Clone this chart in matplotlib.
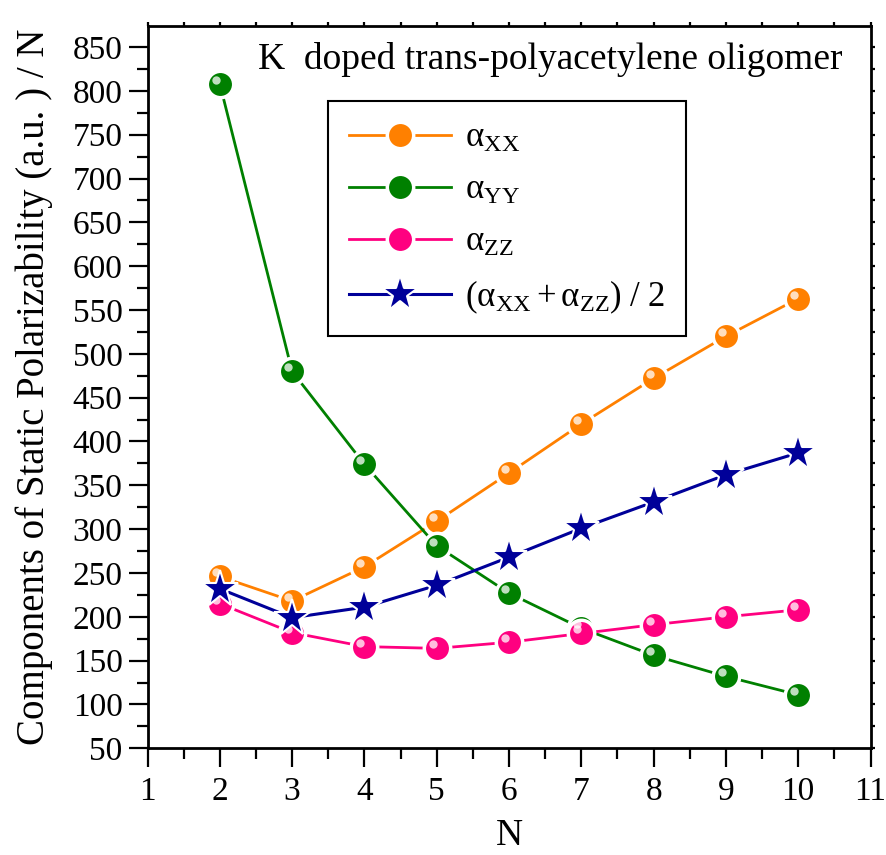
import numpy as np
import matplotlib
matplotlib.use("Agg")
import matplotlib.pyplot as plt
import matplotlib.transforms as mtransforms
from matplotlib.ticker import MultipleLocator

plt.rcParams['font.family'] = ['Liberation Serif', 'DejaVu Serif']
plt.rcParams['mathtext.fontset'] = 'stix'

# data
n = [2, 3, 4, 5, 6, 7, 8, 9, 10]
alpha_xx = [246, 218, 257, 309, 364, 420, 472, 520, 563]
alpha_yy = [808, 480, 374, 281, 227, 187, 156, 132, 111]
alpha_zz = [215, 182, 166, 164, 171, 181, 191, 200, 208]
alpha_avg = [232, 199, 211, 236, 268, 301, 331, 362, 387]

labels = [r'$\mathregular{α_{XX}}$', r'$\mathregular{α_{YY}}$', r'$\mathregular{α_{ZZ}}$',
          r'$\mathregular{(α_{XX}+α_{ZZ})\ /\ 2}$']
colors = ['#FF8000', '#008000', '#FF0080', '#000099']

fig = plt.figure(figsize=(8.87, 8.55), dpi=100)
ax = fig.add_axes([0.1663, 0.1248, 0.8151, 0.8448])

# highlight offset for the "glossy ball" look
hl = mtransforms.offset_copy(ax.transData, fig=fig, x=-4, y=4, units='dots')

series = [alpha_xx, alpha_yy, alpha_zz]
handles = []
for i, vals in enumerate(series):
    h, = ax.plot(n, vals, '-', color=colors[i], lw=2, marker='o', ms=19,
                 mfc=colors[i], mec='white', mew=2.5, zorder=2)
    ax.plot(n, vals, 'o', ms=6, mfc='white', mec='none', alpha=0.75,
            transform=hl, zorder=3)
    handles.append(h)

h, = ax.plot(n, alpha_avg, '-', color=colors[3], lw=2.2, marker='*', ms=28,
             mfc=colors[3], mec='white', mew=1.5, zorder=4)
handles.append(h)

ax.set_xlim(1, 11)
ax.set_ylim(50, 874)
ax.xaxis.set_major_locator(MultipleLocator(1))
ax.xaxis.set_minor_locator(MultipleLocator(0.5))
ax.yaxis.set_major_locator(MultipleLocator(50))
ax.yaxis.set_minor_locator(MultipleLocator(25))

ax.tick_params(which='major', direction='out', length=14, width=1.6, labelsize=24,
               top=True, right=True)
ax.tick_params(which='minor', direction='out', length=8, width=1.6, top=True, right=True)
ax.tick_params(axis='x', which='major', pad=6)
ax.tick_params(axis='y', which='major', pad=4)
for s in ax.spines.values():
    s.set_linewidth(2)
# shorter ticks on top and right
for tl in ax.xaxis.get_majorticklines()[1::2] + ax.xaxis.get_minorticklines()[1::2]:
    tl.set_markersize(3)
for tl in ax.yaxis.get_majorticklines()[1::2] + ax.yaxis.get_minorticklines()[1::2]:
    tl.set_markersize(3)

fig.text(0.574, 1 - 845 / 855, 'N', fontsize=27, ha='center', va='baseline')
ax.set_ylabel('Components of Static Polarizability (a.u. ) / N', fontsize=28, labelpad=14)

ax.text(0.153, 0.953, 'K  doped trans-polyacetylene oligomer', transform=ax.transAxes,
        fontsize=27, va='center', ha='left')

leg = ax.legend(handles, labels, loc='upper left', bbox_to_anchor=(0.2497, 0.896),
                borderaxespad=0, fontsize=25, frameon=True, fancybox=False,
                edgecolor='black', framealpha=1, handlelength=2.95, handletextpad=0.4,
                labelspacing=0.55, borderpad=0.6, numpoints=1)
leg.get_frame().set_linewidth(1.5)

fig.savefig('out.png', dpi=100)
